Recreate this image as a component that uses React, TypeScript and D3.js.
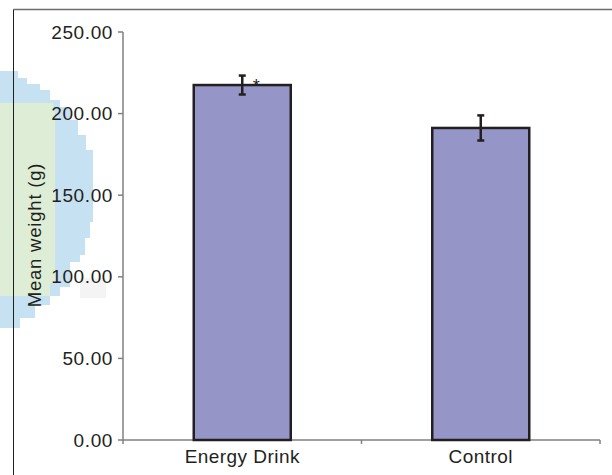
import React from "react";
import * as d3 from "d3";

const categories = ["Energy Drink", "Control"];
const means = [217.5, 191.2];
const errors = [5.8, 7.7];
const significance = ["*", ""];
const yTicks = [0, 50, 100, 150, 200, 250];

// decorative pixelated blob (artifact in the reference image): [y0, y1, xRight]
const blueRows: [number, number, number][] = [
  [71, 78, 18], [78, 84, 27], [84, 90, 40], [90, 100, 50], [100, 107, 60],
  [107, 120, 70], [120, 135, 78], [135, 150, 86], [150, 222, 93], [222, 238, 90],
  [238, 255, 85], [255, 262, 80], [262, 287, 70], [287, 296, 60], [296, 305, 50],
  [305, 318, 35], [318, 328, 20],
];
const greenRows: [number, number, number][] = [
  [103, 110, 53], [110, 283, 55], [283, 296, 50],
];

const W = 612, H = 475;
const fontFamily = "Liberation Sans, Arial, Helvetica, sans-serif";

export default function App() {
  const x = d3.scaleBand<string>().domain(categories).range([123, 600]).paddingInner(0).paddingOuter(0);
  const y = d3.scaleLinear().domain([0, 250]).range([440, 32]);
  const barW = 97;
  const textColor = "#231f20";
  const axisColor = "#808080";
  const boundaries = [x.range()[0], ...categories.map((c) => (x(c) as number) + x.bandwidth())];

  return (
    <svg width={W} height={H} style={{ position: "absolute", left: 0, top: 0, background: "#fff" }}>
      <rect x={0} y={0} width={W} height={H} fill="#fff" />
      {/* decorative blob */}
      <g>
        {blueRows.map(([y0, y1, xr], i) => (
          <rect key={"b" + i} x={0} y={y0} width={xr} height={y1 - y0} fill="#c6e1f1" />
        ))}
        {greenRows.map(([y0, y1, xr], i) => (
          <rect key={"g" + i} x={0} y={y0} width={xr} height={y1 - y0} fill="#ddedd6" />
        ))}
        <rect x={80} y={278} width={26} height={20} fill="#efefef" opacity={0.7} />
      </g>
      {/* frame */}
      <line x1={13.5} y1={9.5} x2={612} y2={9.5} stroke="#6d6d6d" strokeWidth={1.5} />
      <line x1={13.5} y1={9.5} x2={13.5} y2={475} stroke="#231f20" strokeWidth={1} />

      {/* y axis */}
      <line x1={123} y1={y(250)} x2={123} y2={y(0)} stroke={axisColor} strokeWidth={1.5} />
      {yTicks.map((t) => (
        <g key={t}>
          <line x1={118} x2={123} y1={y(t)} y2={y(t)} stroke={axisColor} strokeWidth={1.5} />
          <text x={113} y={y(t) + 6.5} textAnchor="end" fontFamily={fontFamily} fontSize={19} letterSpacing={0.6} fill={textColor}>
            {d3.format(".2f")(t)}
          </text>
        </g>
      ))}
      <text
        transform={`translate(41, ${235}) rotate(-90)`}
        textAnchor="middle"
        fontFamily={fontFamily}
        fontSize={18.5}
        letterSpacing={0.8}
        fill={textColor}
      >
        Mean weight (g)
      </text>

      {/* x axis */}
      <line x1={123} x2={600} y1={y(0)} y2={y(0)} stroke={axisColor} strokeWidth={1.5} />
      {boundaries.map((b, i) => (
        <line key={i} x1={b} x2={b} y1={y(0)} y2={y(0) + 4} stroke={axisColor} strokeWidth={1.5} />
      ))}

      {/* bars */}
      {categories.map((c, i) => {
        const cx = (x(c) as number) + x.bandwidth() / 2;
        return (
          <g key={c}>
            <rect
              x={cx - barW / 2}
              y={y(means[i])}
              width={barW}
              height={y(0) - y(means[i])}
              fill="#9595c8"
              stroke={textColor}
              strokeWidth={2.5}
            />
            <line x1={cx} x2={cx} y1={y(means[i] + errors[i])} y2={y(means[i] - errors[i])} stroke={textColor} strokeWidth={2.5} />
            <line x1={cx - 3.5} x2={cx + 3.5} y1={y(means[i] + errors[i])} y2={y(means[i] + errors[i])} stroke={textColor} strokeWidth={2.5} />
            <line x1={cx - 3.5} x2={cx + 3.5} y1={y(means[i] - errors[i])} y2={y(means[i] - errors[i])} stroke={textColor} strokeWidth={2.5} />
            {significance[i] && (
              <text x={cx + 14} y={y(means[i] + errors[i]) + 16} textAnchor="middle" fontFamily={fontFamily} fontSize={18} fill={textColor}>
                {significance[i]}
              </text>
            )}
            <text x={cx} y={463} textAnchor="middle" fontFamily={fontFamily} fontSize={19} letterSpacing={0.45} fill={textColor}>
              {c}
            </text>
          </g>
        );
      })}
    </svg>
  );
}
